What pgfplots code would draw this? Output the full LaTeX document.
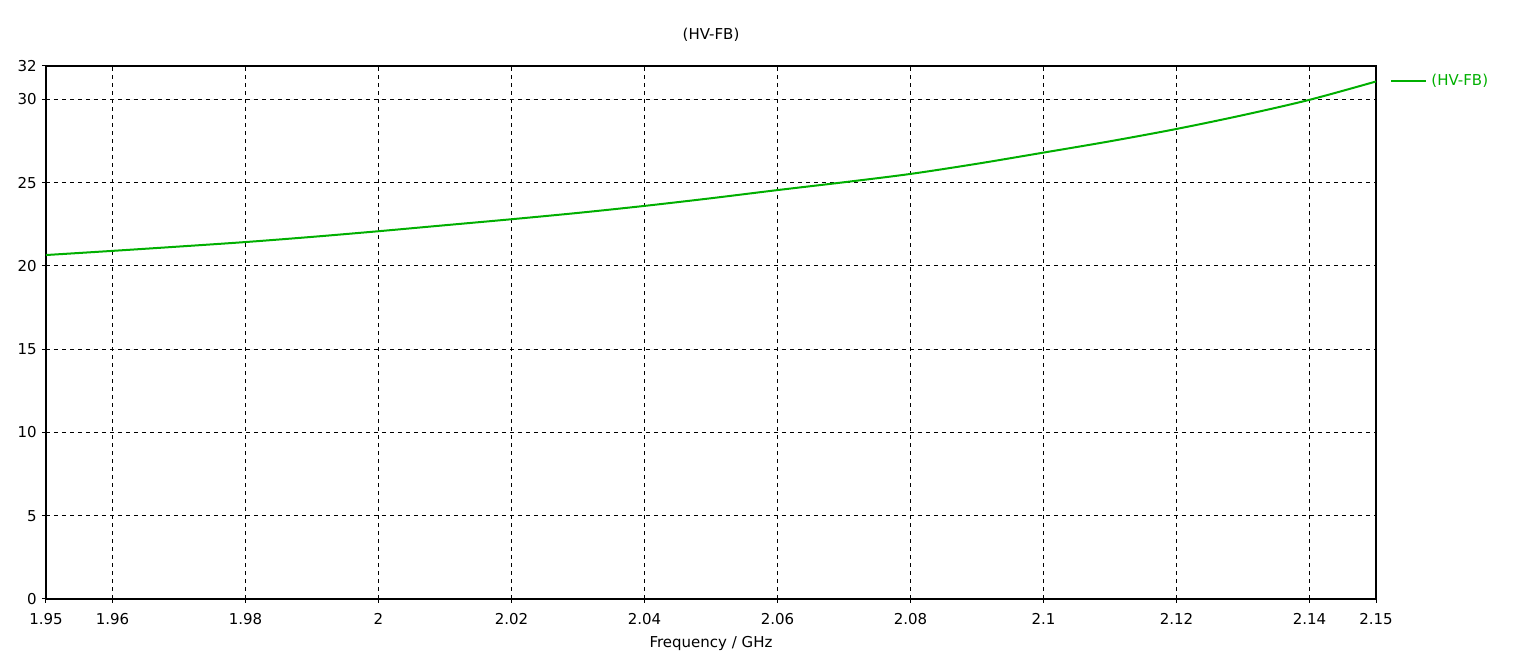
\documentclass[border=0pt]{standalone}
\usepackage{pgfplots}
\pgfplotsset{compat=1.18}
\usepackage{fontspec}
\setmainfont{DejaVu Sans}
\definecolor{cstgreen}{RGB}{0,175,0}
\begin{document}
\fontsize{7.5}{9}\selectfont
\begin{tikzpicture}
\path[use as bounding box] (-23pt,-31.5pt) rectangle (737pt,299.5pt);
\begin{axis}[
  at={(0,0)}, anchor=origin,
  scale only axis, width=665pt, height=266.5pt,
  xmin=1.95, xmax=2.15, ymin=0, ymax=32,
  xtick={1.95,1.96,1.98,2,2.02,2.04,2.06,2.08,2.1,2.12,2.14,2.15},
  xticklabels={1.95,1.96,1.98,2,2.02,2.04,2.06,2.08,2.1,2.12,2.14,2.15},
  ytick={0,5,10,15,20,25,30,32},
  yticklabels={0,5,10,15,20,25,30,32},
  tick align=outside, tick pos=left,
  major tick length=2pt,
  tick style={black, line width=0.5pt},
  axis line style={black, line width=0.6pt},
  grid=major,
  major grid style={black, dashed, line width=0.4pt, dash pattern=on 2pt off 2pt},
  xticklabel style={font=\fontsize{7.5}{9}\selectfont, yshift=-2.5pt},
  yticklabel style={font=\fontsize{7.5}{9}\selectfont},
  title={(HV-FB)},
  title style={font=\fontsize{7.5}{9}\selectfont, at={(0.5,1)}, anchor=south, yshift=3.5pt},
  xlabel={Frequency / GHz},
  xlabel style={font=\fontsize{7.5}{9}\selectfont, yshift=-0.5pt},
  legend style={draw=none, fill=none, at={(1,0.972)}, anchor=west, xshift=6pt,
    font=\fontsize{7.5}{9}\selectfont, text=cstgreen, inner sep=1pt},
  legend cell align=left,
  legend image code/.code={\draw[#1] (0pt,0pt) -- (17.5pt,0pt);},
]
\addplot[cstgreen, line width=1pt, smooth] coordinates {
(1.95,20.65) (1.96,20.9) (1.97,21.16) (1.98,21.43) (1.99,21.74) (2.00,22.08)
(2.01,22.44) (2.02,22.8) (2.03,23.18) (2.04,23.6) (2.05,24.06) (2.06,24.55)
(2.07,25.02) (2.08,25.52) (2.09,26.13) (2.10,26.8) (2.11,27.48) (2.12,28.22)
(2.13,29.05) (2.14,29.97) (2.15,31.07)
};
\addlegendentry{(HV-FB)}
\end{axis}
\end{tikzpicture}
\end{document}
